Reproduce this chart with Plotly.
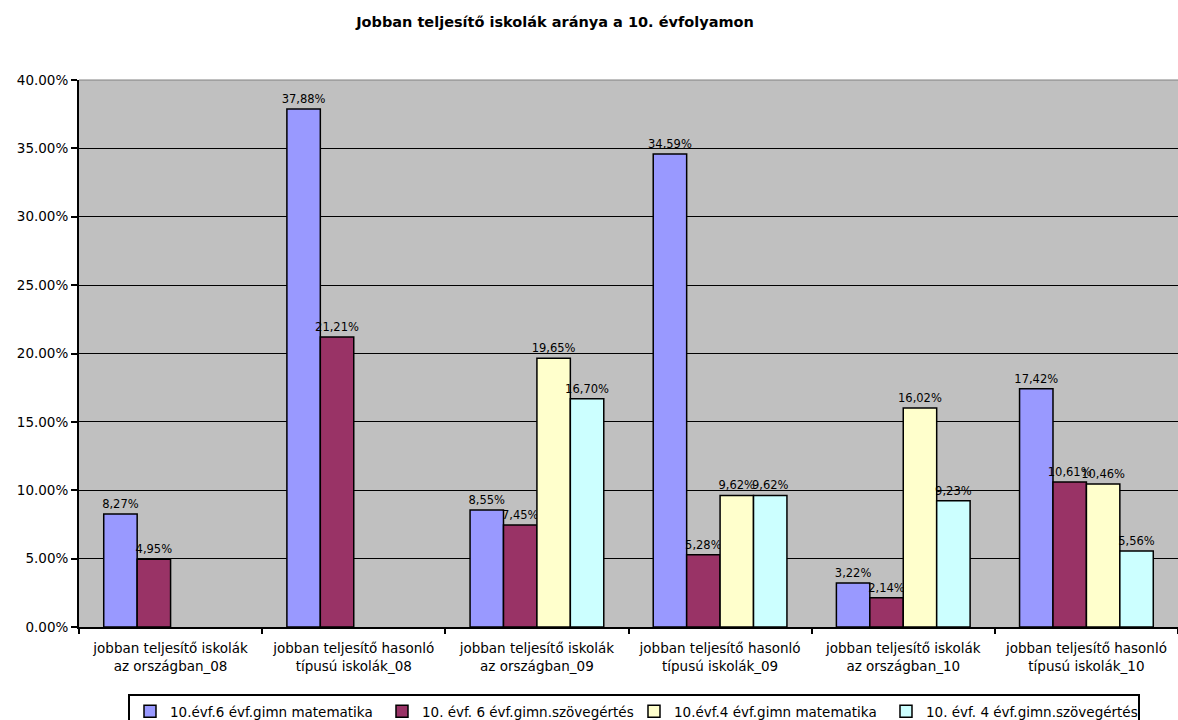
import plotly.graph_objects as go

categories = [
    "jobban teljesítő iskolák<br>az országban_08",
    "jobban teljesítő hasonló<br>típusú iskolák_08",
    "jobban teljesítő iskolák<br>az országban_09",
    "jobban teljesítő hasonló<br>típusú iskolák_09",
    "jobban teljesítő iskolák<br>az országban_10",
    "jobban teljesítő hasonló<br>típusú iskolák_10",
]
series_names = [
    "10.évf.6 évf.gimn matematika",
    "10. évf. 6 évf.gimn.szövegértés",
    "10.évf.4 évf.gimn matematika",
    "10. évf. 4 évf.gimn.szövegértés",
]
s1 = [8.27, 37.88, 8.55, 34.59, 3.22, 17.42]
s2 = [4.95, 21.21, 7.45, 5.28, 2.14, 10.61]
s3 = [None, None, 19.65, 9.62, 16.02, 10.46]
s4 = [None, None, 16.70, 9.62, 9.23, 5.56]
colors = ["#9999FF", "#993366", "#FFFFCC", "#CCFFFF"]
y_ticks = [0, 5, 10, 15, 20, 25, 30, 35, 40]

FONT = "DejaVu Sans, Verdana, Arial"

def fmt(v):
    return "" if v is None else ("%.2f%%" % v).replace(".", ",")

fig = go.Figure()
for name, vals, col in zip(series_names, [s1, s2, s3, s4], colors):
    fig.add_trace(go.Bar(
        x=categories,
        y=[None if v is None else v / 100 for v in vals],
        name=name,
        marker=dict(color=col, line=dict(color="black", width=1.5)),
        text=[fmt(v) for v in vals],
        textposition="outside",
        constraintext="none",
        textfont=dict(family=FONT, size=11.5, color="black"),
        cliponaxis=False,
    ))

fig.update_layout(
    width=1178, height=720,
    margin=dict(l=79, r=0, t=80, b=93, autoexpand=False),
    paper_bgcolor="white",
    plot_bgcolor="#C0C0C0",
    barmode="group",
    bargap=0.27,
    bargroupgap=0,
    font=dict(family=FONT, size=12, color="black"),
    title=dict(
        text="<b>Jobban teljesítő iskolák aránya a 10. évfolyamon</b>",
        x=555 / 1178, xanchor="center", xref="container",
        y=1 - 22 / 720, yanchor="middle", yref="container",
        font=dict(family=FONT, size=14.5, color="black"),
    ),
    showlegend=True,
    legend=dict(
        orientation="h",
        x=0.505, xanchor="center",
        y=-67 / 547, yanchor="top",
        bordercolor="black", borderwidth=2,
        bgcolor="white",
        font=dict(family=FONT, size=13.5, color="black"),
        entrywidth=207, entrywidthmode="pixels",
        traceorder="normal",
    ),
)
fig.update_yaxes(
    range=[0, 0.40],
    tickvals=[t / 100 for t in y_ticks],
    tickformat=".2%",
    showgrid=True, gridcolor="black", gridwidth=1.2,
    showline=True, linecolor="black", linewidth=2,
    ticks="outside", ticklen=6, tickcolor="black", tickwidth=2,
    zeroline=False, automargin=False,
    tickfont=dict(family=FONT, size=13.5),
)
fig.update_xaxes(
    showline=True, linecolor="black", linewidth=2,
    ticks="outside", tickson="boundaries", ticklen=5, tickcolor="black", tickwidth=2,
    tickfont=dict(family=FONT, size=13.5),
    ticklabelstandoff=8,
    showgrid=False, automargin=False,
)
fig.add_shape(type="line", xref="paper", yref="paper", x0=0, x1=1, y0=1, y1=1,
              line=dict(color="#808080", width=1))
fig.write_html("out.html", config={"displayModeBar": False},
               post_script="document.body.style.margin='0';document.body.style.overflow='hidden';")
